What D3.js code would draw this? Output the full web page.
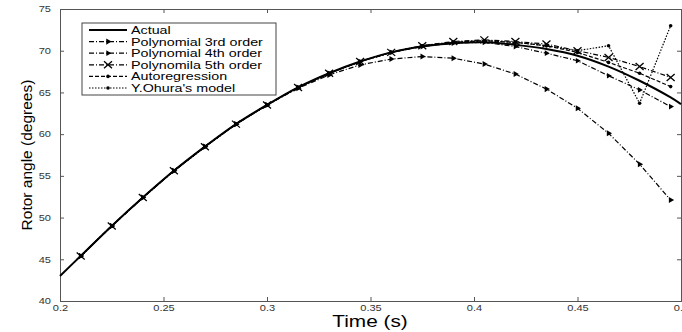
<!doctype html>
<html>
<head>
<title>Rotor angle</title>
<script src="https://d3js.org/d3.v7.min.js"></script>
<style>
body { margin: 0; background: #fff; }
svg { display: block; }
</style>
</head>
<body>
<script>
// time steps where the predictions are marked
var time = [0.21, 0.225, 0.24, 0.255, 0.27, 0.285, 0.3, 0.315, 0.33, 0.345,
            0.36, 0.375, 0.39, 0.405, 0.42, 0.435, 0.45, 0.465, 0.48, 0.495];
var actualTime = [0.2].concat(time).concat([0.5]);
var actual = [43.0, 45.4, 49.0, 52.4, 55.6, 58.5, 61.2, 63.5, 65.6, 67.3, 68.7,
              69.8, 70.5, 70.9, 71.0, 70.7, 70.2, 69.4, 68.1, 66.4, 64.4, 63.6];
var poly3 = [45.4, 49.0, 52.4, 55.6, 58.5, 61.2, 63.5, 65.5, 67.1, 68.3,
             69.0, 69.3, 69.1, 68.4, 67.2, 65.4, 63.1, 60.1, 56.4, 52.1];
var poly4 = [45.4, 49.0, 52.4, 55.6, 58.5, 61.2, 63.5, 65.6, 67.3, 68.7,
             69.8, 70.5, 70.9, 71.0, 70.5, 69.7, 68.8, 67.0, 65.3, 63.3];
var poly5 = [45.4, 49.0, 52.4, 55.6, 58.5, 61.2, 63.5, 65.6, 67.3, 68.7,
             69.8, 70.6, 71.1, 71.3, 71.1, 70.8, 70.0, 69.2, 68.1, 66.8];
var autoreg = [45.4, 49.0, 52.4, 55.6, 58.5, 61.2, 63.5, 65.6, 67.3, 68.7,
               69.8, 70.6, 71.0, 71.2, 71.0, 70.6, 69.8, 68.6, 67.3, 65.7];
var ohura = [45.4, 49.0, 52.4, 55.6, 58.5, 61.2, 63.5, 65.6, 67.3, 68.7,
             69.8, 70.6, 71.0, 71.2, 71.0, 70.6, 70.0, 70.6, 63.7, 73.0];
var xTicks = [0.2, 0.25, 0.3, 0.35, 0.4, 0.45, 0.5];
var yTicks = [40, 45, 50, 55, 60, 65, 70, 75];
var names = ["Actual", "Polynomial 3rd order", "Polynomial 4th order",
             "Polynomila 5th order", "Autoregression", "Y.Ohura's model"];

var W = 682, H = 332;
var mLeft = 60, mRight = 681, mTop = 9, mBottom = 301;
var font = "Liberation Sans, Arial, sans-serif";
var stretch = "scale(1.3,1)"; // the original figure is widened

var svg = d3.select("body").append("svg").attr("width", W).attr("height", H);

var x = d3.scaleLinear().domain([0.2, 0.5]).range([mLeft, mRight]);
var y = d3.scaleLinear().domain([40, 75]).range([mBottom, mTop]);

// axes, MATLAB style with inward ticks on all sides
var axisColor = "#555";
svg.append("g").attr("transform", "translate(0," + mBottom + ")")
    .call(d3.axisBottom(x).tickValues(xTicks).tickSize(-4).tickPadding(4)
        .tickFormat(function (d) { return d3.format("")(+d.toFixed(2)); }));
svg.append("g").attr("transform", "translate(0," + mTop + ")")
    .call(d3.axisTop(x).tickValues(xTicks).tickSize(-4).tickFormat(""));
svg.append("g").attr("transform", "translate(" + mLeft + ",0)")
    .call(d3.axisLeft(y).tickValues(yTicks).tickSize(-4).tickPadding(7));
svg.append("g").attr("transform", "translate(" + mRight + ",0)")
    .call(d3.axisRight(y).tickValues(yTicks).tickSize(-4).tickFormat(""));
svg.selectAll(".domain").attr("stroke", axisColor).attr("stroke-width", 1);
svg.selectAll(".tick line").attr("stroke", axisColor);
svg.selectAll(".tick text").attr("font-family", font)
    .attr("font-size", 8.5).attr("fill", "#333").attr("transform", stretch);

// series
var line = d3.line().x(function (d) { return x(d[0]); }).y(function (d) { return y(d[1]); });
var smooth = d3.line().curve(d3.curveCatmullRom)
    .x(function (d) { return x(d[0]); }).y(function (d) { return y(d[1]); });

function pairs(t, v) { return t.map(function (d, i) { return [d, v[i]]; }); }

var series = [
    { name: names[1], values: poly3, dash: "5,2,1,2", marker: "tri3" },
    { name: names[2], values: poly4, dash: "5,2,1,2", marker: "tri4" },
    { name: names[3], values: poly5, dash: "5,2,1,2", marker: "cross" },
    { name: names[4], values: autoreg, dash: "4,2", marker: "dot" },
    { name: names[5], values: ohura, dash: "1.5,1.5", marker: "dot" }
];

function drawMarker(g, kind, cx, cy) {
    if (kind == "cross") {
        g.append("path").attr("d", "M" + (cx - 4) + "," + (cy - 3.5) + "L" + (cx + 4) + "," + (cy + 3.5) +
            "M" + (cx - 4) + "," + (cy + 3.5) + "L" + (cx + 4) + "," + (cy - 3.5))
            .attr("stroke", "#000").attr("stroke-width", 1.3).attr("fill", "none");
    } else if (kind == "tri3") {
        g.append("path").attr("d", d3.symbol().type(d3.symbolTriangle).size(16))
            .attr("transform", "translate(" + cx + "," + cy + ") rotate(90)")
            .attr("fill", "#000");
    } else if (kind == "tri4") {
        g.append("path").attr("d", d3.symbol().type(d3.symbolTriangle).size(14))
            .attr("transform", "translate(" + cx + "," + cy + ") rotate(90)")
            .attr("fill", "#000");
    } else {
        g.append("circle").attr("cx", cx).attr("cy", cy).attr("r", 1.8).attr("fill", "#000");
    }
}

var plot = svg.append("g");
plot.append("path").datum(pairs(actualTime, actual)).attr("d", smooth)
    .attr("fill", "none").attr("stroke", "#000").attr("stroke-width", 2);

series.forEach(function (s) {
    var pts = pairs(time, s.values);
    plot.append("path").datum(pts).attr("d", line)
        .attr("fill", "none").attr("stroke", "#000").attr("stroke-width", 1.2)
        .attr("stroke-dasharray", s.dash);
    pts.forEach(function (p) { drawMarker(plot, s.marker, x(p[0]), y(p[1])); });
});

// legend
var lg = svg.append("g").attr("transform", "translate(82,23)");
lg.append("rect").attr("width", 194).attr("height", 72)
    .attr("fill", "#fff").attr("stroke", "#444").attr("stroke-width", 1);
names.forEach(function (n, i) {
    var yy = 7 + i * 11.6;
    var row = lg.append("g");
    row.append("line").attr("x1", 7).attr("x2", 45).attr("y1", yy).attr("y2", yy)
        .attr("stroke", "#000").attr("stroke-width", i == 0 ? 2 : 1.2)
        .attr("stroke-dasharray", i == 0 ? null : series[i - 1].dash);
    if (i > 0) drawMarker(row, series[i - 1].marker, 26, yy);
    row.append("text").attr("transform", "translate(49," + (yy + 4) + ") " + stretch).text(n)
        .attr("font-family", font).attr("font-size", 11);
});

// axis labels
svg.append("text").attr("transform", "translate(370,327) " + stretch).attr("text-anchor", "middle")
    .attr("font-family", font).attr("font-size", 16).text("Time (s)");
svg.append("text").attr("transform", "translate(32,155) rotate(-90)").attr("text-anchor", "middle")
    .attr("font-family", font).attr("font-size", 15.5).text("Rotor angle (degrees)");
</script>
</body>
</html>
